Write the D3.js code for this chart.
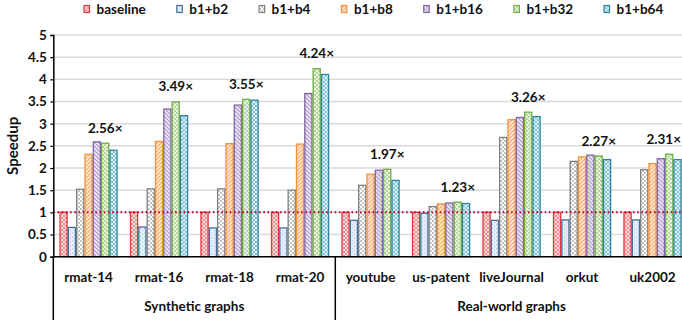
<!DOCTYPE html>
<html>
<head>
<meta charset="utf-8">
<script src="https://cdn.jsdelivr.net/npm/d3@7"></script>
<style>
  html, body { margin: 0; padding: 0; background: #fff; overflow: hidden; }
  svg { display: block; font-family: Lato, "Open Sans", sans-serif; font-weight: bold; }
</style>
</head>
<body>
<svg id="chart" width="682" height="320"></svg>
<script>
// Speedup of b1+bN variants over the baseline, per input graph
const categories = ["rmat-14", "rmat-16", "rmat-18", "rmat-20",
                    "youtube", "us-patent", "liveJournal", "orkut", "uk2002"];
const groups = [
  { name: "Synthetic graphs", count: 4 },
  { name: "Real-world graphs", count: 5 }
];
const seriesNames = ["baseline", "b1+b2", "b1+b4", "b1+b8", "b1+b16", "b1+b32", "b1+b64"];

const baseline = [1, 1, 1, 1, 1, 1, 1, 1, 1];
const b1b2  = [0.66, 0.67, 0.65, 0.65, 0.82, 0.98, 0.82, 0.83, 0.83];
const b1b4  = [1.52, 1.53, 1.53, 1.50, 1.61, 1.13, 2.69, 2.15, 1.96];
const b1b8  = [2.31, 2.60, 2.55, 2.54, 1.86, 1.19, 3.09, 2.25, 2.10];
const b1b16 = [2.59, 3.33, 3.42, 3.68, 1.95, 1.21, 3.14, 2.29, 2.21];
const b1b32 = [2.56, 3.49, 3.55, 4.24, 1.97, 1.23, 3.26, 2.27, 2.31];
const b1b64 = [2.40, 3.18, 3.53, 4.11, 1.72, 1.20, 3.16, 2.19, 2.19];
const seriesValues = [baseline, b1b2, b1b4, b1b8, b1b16, b1b32, b1b64];

// the highlighted configuration whose speedup is printed above each group
const labelledSeries = "b1+b32";
const yTicks = [0, 0.5, 1, 1.5, 2, 2.5, 3, 3.5, 4, 4.5, 5];

// ---- styling ----
const strokeColors = ["#e0393e", "#41719c", "#7f7f7f", "#f0923e", "#8064a2", "#70ad47", "#31849b"];

const svg = d3.select("#chart");
const W = 682, H = 320;
const margin = { left: 53.3, top: 35, bottom: 63.3 };
const plotRight = 687.8;
const y0 = H - margin.bottom;

// hatch patterns for the bar fills
const defs = svg.append("defs");
function tile(id, bg, draw) {
  const p = defs.append("pattern").attr("id", id)
    .attr("patternUnits", "userSpaceOnUse").attr("width", 4).attr("height", 4);
  p.append("rect").attr("width", 4).attr("height", 4).attr("fill", bg);
  draw(p);
}
// baseline: pink crosshatch
tile("pat0", "#f9dada", p => {
  p.append("path").attr("d", "M0,0L4,4M4,0L0,4").attr("stroke", "#e88a8c").attr("stroke-width", 0.9);
});
// b1+b2: pale blue with fine dots
tile("pat1", "#e6eefa", p => {
  p.append("rect").attr("x", 0).attr("y", 0).attr("width", 1).attr("height", 1).attr("fill", "#aec4e4");
  p.append("rect").attr("x", 2).attr("y", 2).attr("width", 1).attr("height", 1).attr("fill", "#aec4e4");
});
// b1+b4: grey checks
tile("pat2", "#ffffff", p => {
  p.append("rect").attr("x", 0).attr("y", 0).attr("width", 2).attr("height", 2).attr("fill", "#c4c4c4");
  p.append("rect").attr("x", 2).attr("y", 2).attr("width", 2).attr("height", 2).attr("fill", "#c4c4c4");
});
// b1+b8: orange diagonal stripes
tile("pat3", "#fde9d8", p => {
  p.append("path").attr("d", "M-1,1L1,-1M0,4L4,0M3,5L5,3").attr("stroke", "#f3a866").attr("stroke-width", 1.1);
});
// b1+b16: purple diagonal stripes
tile("pat4", "#eee8f5", p => {
  p.append("path").attr("d", "M-1,3L1,5M0,0L4,4M3,-1L5,1").attr("stroke", "#ab95cf").attr("stroke-width", 1.1);
});
// b1+b32: green grid
tile("pat5", "#eaf4e1", p => {
  p.append("rect").attr("x", 0).attr("y", 0).attr("width", 2).attr("height", 2).attr("fill", "#b5d79c");
  p.append("rect").attr("x", 2).attr("y", 2).attr("width", 2).attr("height", 2).attr("fill", "#b5d79c");
});
// b1+b64: teal diamonds
tile("pat6", "#dcf0f6", p => {
  p.append("path").attr("d", "M2,0L4,2L2,4L0,2Z").attr("fill", "none").attr("stroke", "#7cbfd2").attr("stroke-width", 0.9);
});

// ---- scales ----
const x = d3.scaleBand().domain(categories)
  .range([margin.left, plotRight]).paddingInner(0.173).paddingOuter(0.0865);
const xs = d3.scaleBand().domain(seriesNames).range([0, x.bandwidth()]);
const y = d3.scaleLinear().domain([0, 5]).range([y0, margin.top]);

// ---- gridlines ----
svg.append("g").selectAll("line").data(yTicks.filter(d => d > 0)).join("line")
  .attr("x1", margin.left).attr("x2", W)
  .attr("y1", d => y(d)).attr("y2", d => y(d))
  .attr("stroke", "#d9d9d9").attr("stroke-width", 1.5);

// ---- bars ----
const barG = svg.append("g");
seriesNames.forEach((s, si) => {
  barG.append("g").selectAll("rect").data(seriesValues[si]).join("rect")
    .attr("x", (d, i) => x(categories[i]) + xs(s) + 0.6)
    .attr("y", d => y(d))
    .attr("width", xs.bandwidth() - 1.2)
    .attr("height", d => y0 - y(d))
    .attr("fill", `url(#pat${si})`)
    .attr("stroke", strokeColors[si]).attr("stroke-width", 1.3);
});

// ---- baseline reference line at 1x ----
svg.append("line")
  .attr("x1", margin.left).attr("x2", W)
  .attr("y1", y(1)).attr("y2", y(1))
  .attr("stroke", "#c00030").attr("stroke-width", 2)
  .attr("stroke-dasharray", "1.6,2.6");

// ---- speedup labels (kept inside the canvas at the right edge) ----
const li = seriesNames.indexOf(labelledSeries);
svg.append("g").selectAll("text").data(seriesValues[li]).join("text")
  .attr("x", (d, i) => x(categories[i]) + xs(labelledSeries) + xs.bandwidth() / 2)
  .attr("y", d => y(d) - 10.5)
  .attr("text-anchor", "middle")
  .attr("font-size", 13.5).attr("fill", "#111")
  .text(d => d.toFixed(2) + "×")
  .each(function () {
    const t = d3.select(this);
    const half = this.getComputedTextLength() / 2;
    const cx = +t.attr("x");
    if (cx + half > W - 1) t.attr("x", W - 1 - half);
  });

// ---- y axis ----
const yAxis = svg.append("g").attr("transform", `translate(${margin.left},0)`)
  .call(d3.axisLeft(y).tickValues(yTicks).tickSize(3).tickPadding(3.5)
    .tickFormat(d => String(d)));
yAxis.select(".domain").attr("stroke", "#000").attr("stroke-width", 1.5);
yAxis.selectAll(".tick line").attr("stroke", "#000").attr("stroke-width", 1.2);
yAxis.selectAll("text").attr("font-size", 13.5).attr("font-family", "Lato, sans-serif")
  .attr("font-weight", "bold").attr("fill", "#111");

svg.append("text")
  .attr("transform", `translate(18,${(y0 + margin.top) / 2}) rotate(-90)`)
  .attr("text-anchor", "middle").attr("font-size", 15).attr("fill", "#111")
  .text("Speedup");

// ---- x axis with grouped categories ----
svg.append("line").attr("x1", margin.left).attr("x2", W)
  .attr("y1", y0).attr("y2", y0).attr("stroke", "#000").attr("stroke-width", 1.5);

svg.append("g").selectAll("text").data(categories).join("text")
  .attr("x", d => x(d) + x.bandwidth() / 2)
  .attr("y", y0 + 25)
  .attr("text-anchor", "middle").attr("font-size", 13.5).attr("fill", "#111")
  .text(d => d);

let start = 0;
const bounds = [x.range()[0]];
groups.forEach(g => {
  const a = x.range()[0] + start * x.step();
  const b = x.range()[0] + (start + g.count) * x.step();
  bounds.push(b);
  svg.append("text")
    .attr("x", (a + b) / 2).attr("y", y0 + 54.5)
    .attr("text-anchor", "middle").attr("font-size", 13.5).attr("fill", "#111")
    .text(g.name);
  start += g.count;
});
svg.append("g").selectAll("line").data(bounds).join("line")
  .attr("x1", d => d).attr("x2", d => d)
  .attr("y1", y0).attr("y2", H)
  .attr("stroke", "#000").attr("stroke-width", 1.5);

// ---- legend ----
const legend = svg.append("g");
let lx = 84;
seriesNames.forEach((s, si) => {
  const g = legend.append("g").attr("transform", `translate(${lx},0)`);
  g.append("rect").attr("x", 0).attr("y", 5.5).attr("width", 5.5).attr("height", 7)
    .attr("fill", `url(#pat${si})`).attr("stroke", strokeColors[si]).attr("stroke-width", 1.2);
  const t = g.append("text").attr("x", 12.5).attr("y", 13.5)
    .attr("font-size", 13.5).attr("fill", "#111").text(s);
  lx += 12.5 + t.node().getComputedTextLength() + 31;
});
</script>
</body>
</html>
